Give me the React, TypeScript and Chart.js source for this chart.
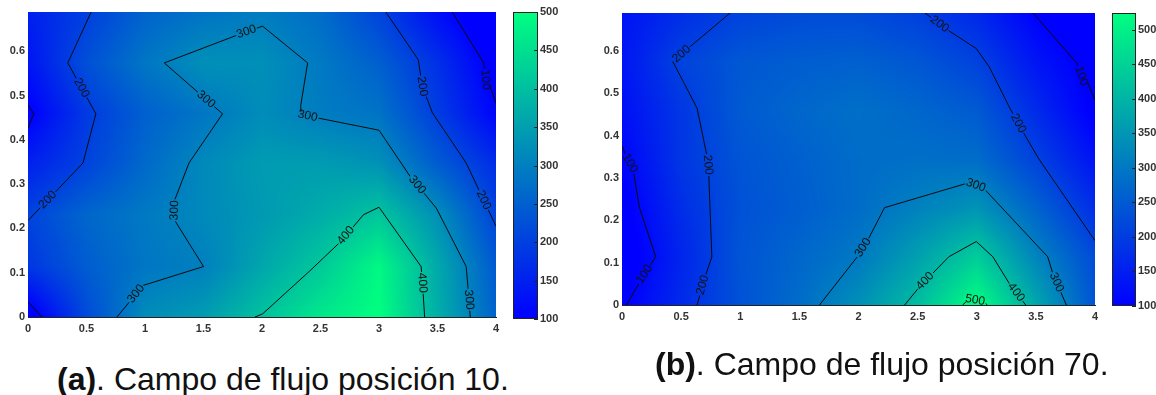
import React, { useEffect, useRef } from "react";
import { Chart, registerables } from "chart.js";

Chart.register(...registerables);

type Pt = [number, number];

const xGrid = [0, 0.5, 1, 1.5, 2, 2.5, 3, 3.5, 4];
const yGrid = [0, 0.115, 0.23, 0.345, 0.46, 0.574, 0.69];

const fieldA = [
  [75, 215, 320, 345, 405, 465, 500, 375, 255],
  [185, 245, 285, 300, 360, 415, 490, 365, 240],
  [205, 260, 290, 315, 340, 370, 410, 325, 205],
  [150, 205, 265, 315, 345, 345, 330, 245, 170],
  [95, 190, 250, 285, 320, 295, 280, 195, 105],
  [130, 225, 285, 325, 325, 290, 250, 175, 85],
  [150, 198, 255, 280, 295, 270, 205, 120, 60],
];

const fieldB = [
  [95, 170, 235, 280, 340, 415, 524, 380, 240],
  [75, 160, 240, 270, 300, 365, 440, 320, 225],
  [85, 175, 235, 255, 280, 315, 345, 265, 175],
  [105, 190, 240, 260, 280, 285, 280, 210, 130],
  [125, 190, 250, 270, 285, 270, 250, 170, 90],
  [135, 210, 245, 255, 260, 245, 210, 135, 85],
  [130, 175, 210, 225, 225, 205, 165, 100, 60],
];

const a200Left: Pt[] = [[0.54, 0.689], [0.34, 0.574], [0.58, 0.459], [0.47, 0.348], [0.265, 0.291], [0, 0.218]];
const a100Bump: Pt[] = [[0, 0.479], [0.05, 0.459], [0, 0.427]];
const a100Corner: Pt[] = [[0, 0.034], [0.12, 0]];
const a300: Pt[] = [[0.76, 0], [0.87, 0.035], [0.98, 0.071], [1.5, 0.114], [1.25, 0.22], [1.255, 0.265], [1.376, 0.348], [1.663, 0.459], [1.165, 0.574], [1.8, 0.638], [2.005, 0.657], [2.39, 0.574], [2.33, 0.476], [2.335, 0.457], [3.0, 0.422], [3.265, 0.318], [3.49, 0.246], [3.745, 0.114], [3.76, 0.069], [3.78, 0]];
const a400: Pt[] = [[1.94, 0], [2.005, 0.007], [2.404, 0.103], [2.675, 0.171], [2.867, 0.231], [3.0, 0.248], [3.36, 0.114], [3.377, 0.054], [3.39, 0]];
const a200Right: Pt[] = [[3.058, 0.689], [3.336, 0.581], [3.37, 0.521], [3.457, 0.461], [3.745, 0.348], [4, 0.205]];
const a100Right: Pt[] = [[3.626, 0.689], [3.895, 0.574], [3.91, 0.536], [3.96, 0.513], [4, 0.483]];

const b100Left: Pt[] = [[0, 0.376], [0.037, 0.35], [0.068, 0.335], [0.1, 0.311], [0.146, 0.232], [0.285, 0.114], [0.177, 0.067], [0.037, 0]];
const b200Left: Pt[] = [[0.914, 0.69], [0.57, 0.609], [0.43, 0.575], [0.635, 0.465], [0.72, 0.35], [0.734, 0.307], [0.76, 0.114], [0.703, 0.067], [0.635, 0]];
const b300: Pt[] = [[1.67, 0], [1.99, 0.114], [2.08, 0.154], [2.22, 0.23], [2.934, 0.289], [3.058, 0.276], [3.6, 0.114], [3.647, 0.071], [3.758, 0]];
const b400: Pt[] = [[2.39, 0], [2.516, 0.043], [2.764, 0.114], [2.996, 0.15], [3.136, 0.114], [3.275, 0.051], [3.414, 0]];
const b500: Pt[] = [[2.88, 0], [2.934, 0.014], [3.058, 0.008], [3.09, 0]];
const b200Right: Pt[] = [[2.562, 0.69], [2.748, 0.651], [2.996, 0.606], [3.105, 0.563], [3.275, 0.468], [3.383, 0.413], [3.523, 0.346], [4, 0.152]];
const b100Right: Pt[] = [[3.476, 0.69], [3.848, 0.571], [3.885, 0.541], [3.94, 0.524], [4, 0.484]];

const labelsA: [string, number, number][] = [
  ["200", 0.44, 0.515], ["200", 0.185, 0.261], ["300", 1.87, 0.642], ["300", 1.52, 0.491],
  ["300", 1.24, 0.241], ["300", 0.935, 0.05], ["300", 2.39, 0.453], ["300", 3.31, 0.295],
  ["300", 3.77, 0.039], ["400", 2.717, 0.184], ["400", 3.36, 0.077], ["200", 3.37, 0.521],
  ["200", 3.87, 0.261], ["100", 3.91, 0.536],
];
const labelsB: [string, number, number][] = [
  ["100", 0.068, 0.335], ["100", 0.198, 0.071], ["100", 3.885, 0.541], ["200", 0.508, 0.592],
  ["200", 0.731, 0.331], ["200", 0.688, 0.047], ["200", 2.686, 0.664], ["200", 3.337, 0.427],
  ["300", 2.036, 0.136], ["300", 2.99, 0.281], ["300", 3.672, 0.053], ["400", 2.569, 0.055],
  ["400", 3.328, 0.029], ["500", 2.99, 0.018],
];

const captionA = ["(a)", ". Campo de flujo posición 10."];
const captionB = ["(b)", ". Campo de flujo posición 70."];
const colorTicksA = [100, 150, 200, 250, 300, 350, 400, 450, 500];
const colorTicksB = [100, 150, 200, 250, 300, 350, 400, 450, 500];
const xTicks = [0, 0.5, 1, 1.5, 2, 2.5, 3, 3.5, 4];
const yTicks = [0, 0.1, 0.2, 0.3, 0.4, 0.5, 0.6];

const FONT = '"Liberation Sans", Arial, sans-serif';

function winter(v: number, min: number, max: number): [number, number, number] {
  const t = Math.min(1, Math.max(0, (v - min) / (max - min)));
  return [0, Math.round(255 * t), Math.round(255 * (1 - t / 2))];
}

function sample(field: number[][], x: number, y: number): number {
  const find = (arr: number[], v: number) => {
    let i = 0;
    while (i < arr.length - 2 && v > arr[i + 1]) i++;
    return [i, Math.min(1, Math.max(0, (v - arr[i]) / (arr[i + 1] - arr[i])))];
  };
  const [i, u] = find(xGrid, x);
  const [j, w] = find(yGrid, y);
  return (
    field[j][i] * (1 - u) * (1 - w) +
    field[j][i + 1] * u * (1 - w) +
    field[j + 1][i] * (1 - u) * w +
    field[j + 1][i + 1] * u * w
  );
}

function heatPlugin(field: number[][], min: number, max: number) {
  return {
    id: "heat",
    beforeDatasetsDraw(chart: any) {
      const { chartArea: ca, scales, ctx } = chart;
      const w = Math.round(ca.right - ca.left);
      const h = Math.round(ca.bottom - ca.top);
      const off = document.createElement("canvas");
      off.width = w;
      off.height = h;
      const oc = off.getContext("2d")!;
      const img = oc.createImageData(w, h);
      for (let py = 0; py < h; py++) {
        const y = scales.y.getValueForPixel(ca.top + py + 0.5);
        for (let px = 0; px < w; px++) {
          const x = scales.x.getValueForPixel(ca.left + px + 0.5);
          const [r, g, b] = winter(sample(field, x, y), min, max);
          const k = (py * w + px) * 4;
          img.data[k] = r;
          img.data[k + 1] = g;
          img.data[k + 2] = b;
          img.data[k + 3] = 255;
        }
      }
      oc.putImageData(img, 0, 0);
      ctx.drawImage(off, ca.left, ca.top);
    },
  };
}

function labelPlugin(
  labels: [string, number, number][],
  lines: Pt[][],
  field: number[][],
  min: number,
  max: number
) {
  return {
    id: "contourLabels",
    afterDatasetsDraw(chart: any) {
      const { scales, ctx } = chart;
      const X = (v: number) => scales.x.getPixelForValue(v);
      const Y = (v: number) => scales.y.getPixelForValue(v);
      ctx.save();
      ctx.font = `12px ${FONT}`;
      ctx.textAlign = "center";
      ctx.textBaseline = "middle";
      for (const [text, lx, ly] of labels) {
        const px = X(lx);
        const py = Y(ly);
        let best = Infinity;
        let angle = 0;
        let sx = px;
        let sy = py;
        for (const line of lines) {
          for (let i = 0; i + 1 < line.length; i++) {
            const x1 = X(line[i][0]);
            const y1 = Y(line[i][1]);
            const x2 = X(line[i + 1][0]);
            const y2 = Y(line[i + 1][1]);
            const dx = x2 - x1;
            const dy = y2 - y1;
            const t = Math.max(0, Math.min(1, ((px - x1) * dx + (py - y1) * dy) / (dx * dx + dy * dy || 1)));
            const d = Math.hypot(px - x1 - t * dx, py - y1 - t * dy);
            if (d < best) {
              best = d;
              angle = Math.atan2(dy, dx);
              sx = x1 + t * dx;
              sy = y1 + t * dy;
            }
          }
        }
        if (angle > Math.PI / 2) angle -= Math.PI;
        if (angle <= -Math.PI / 2) angle += Math.PI;
        ctx.save();
        ctx.translate(sx, sy);
        ctx.rotate(angle);
        const [r, g, b] = winter(sample(field, lx, ly), min, max);
        ctx.fillStyle = `rgb(${r},${g},${b})`;
        ctx.fillRect(-11, -3, 22, 6);
        ctx.fillStyle = "#111";
        ctx.fillText(text, 0, 0);
        ctx.restore();
      }
      ctx.restore();
    },
  };
}

function makeHeatChart(
  canvas: HTMLCanvasElement,
  cfg: {
    plotLeft: number;
    plotTop: number;
    plotBottom: number;
    field: number[][];
    max: number;
    lines: Pt[][];
    labels: [string, number, number][];
    yMax: number;
  }
) {
  const tickFont = { family: FONT, size: 11, weight: "bold" as const };
  return new Chart(canvas, {
    type: "scatter",
    data: {
      datasets: cfg.lines.map((line) => ({
        data: line.map(([x, y]) => ({ x, y })),
        showLine: true,
        borderColor: "#0b0b0b",
        borderWidth: 1,
        pointRadius: 0,
      })),
    },
    options: {
      responsive: false,
      animation: false,
      layout: { padding: { left: 0, top: cfg.plotTop, right: 10, bottom: 0 } },
      plugins: { legend: { display: false }, tooltip: { enabled: false } },
      scales: {
        x: {
          type: "linear",
          min: 0,
          max: 4,
          afterBuildTicks: (s: any) => {
            s.ticks = xTicks.map((value) => ({ value }));
          },
          afterFit: (s: any) => {
            s.height = canvas.height - cfg.plotBottom;
          },
          grid: { display: false, tickLength: 0 },
          border: { display: true, color: "#222", width: 1 },
          ticks: {
            color: "#333",
            font: tickFont,
            maxRotation: 0,
            autoSkip: false,
            padding: 5,
            callback: (v: any) => String(v),
          },
        },
        y: {
          type: "linear",
          min: 0,
          max: cfg.yMax,
          afterBuildTicks: (s: any) => {
            s.ticks = yTicks.map((value) => ({ value }));
          },
          afterFit: (s: any) => {
            s.width = cfg.plotLeft;
          },
          grid: { display: false, tickLength: 0 },
          border: { display: false },
          ticks: { color: "#333", font: tickFont, autoSkip: false, padding: 3, callback: (v: any) => String(v) },
        },
      },
    } as any,
    plugins: [heatPlugin(cfg.field, 100, cfg.max), labelPlugin(cfg.labels, cfg.lines, cfg.field, 100, cfg.max)],
  });
}

function makeColorBar(canvas: HTMLCanvasElement, cfg: { max: number; ticks: number[]; top: number; bottom: number; barWidth: number }) {
  return new Chart(canvas, {
    type: "bar",
    data: {
      labels: [""],
      datasets: [
        {
          data: [[100, cfg.max]] as any,
          barPercentage: 1,
          categoryPercentage: 1,
          backgroundColor: (c: any) => {
            const { chartArea, ctx } = c.chart;
            if (!chartArea) return "#00f";
            const g = ctx.createLinearGradient(0, chartArea.bottom, 0, chartArea.top);
            g.addColorStop(0, "#0000ff");
            g.addColorStop(1, "#00ff80");
            return g;
          },
        },
      ],
    },
    options: {
      responsive: false,
      animation: false,
      layout: { padding: { top: cfg.top, bottom: canvas.height - cfg.bottom, left: 0, right: 0 } },
      plugins: { legend: { display: false }, tooltip: { enabled: false } },
      scales: {
        x: { display: false },
        y: {
          position: "right",
          type: "linear",
          min: 100,
          max: cfg.max,
          afterBuildTicks: (s: any) => {
            s.ticks = cfg.ticks.map((value) => ({ value }));
          },
          afterFit: (s: any) => {
            s.width = canvas.width - cfg.barWidth;
          },
          grid: { display: false, tickLength: 0 },
          border: { display: false },
          ticks: { color: "#333", font: { family: FONT, size: 11, weight: "bold" }, autoSkip: false, padding: 2 },
        },
      },
    } as any,
    plugins: [
      {
        id: "frame",
        afterDatasetsDraw(chart: any) {
          const { chartArea: ca, ctx, scales } = chart;
          ctx.save();
          ctx.strokeStyle = "#222";
          ctx.lineWidth = 1;
          ctx.strokeRect(ca.left + 0.5, ca.top + 0.5, ca.right - ca.left - 1, ca.bottom - ca.top - 1);
          for (const t of cfg.ticks) {
            const y = Math.round(scales.y.getPixelForValue(t)) + 0.5;
            ctx.beginPath();
            ctx.moveTo(ca.right - 4, y);
            ctx.lineTo(ca.right, y);
            ctx.stroke();
          }
          ctx.restore();
        },
      },
    ],
  });
}

const boxStyle = (left: number, top: number): React.CSSProperties => ({
  position: "absolute",
  left,
  top,
  display: "block",
  filter: "blur(0.5px)",
});

const captionStyle = (left: number, top: number): React.CSSProperties => ({
  position: "absolute",
  left,
  top,
  fontFamily: FONT,
  fontSize: 32,
  lineHeight: "34px",
  color: "#111",
  whiteSpace: "nowrap",
});

export default function App() {
  const plotA = useRef<HTMLCanvasElement>(null);
  const barA = useRef<HTMLCanvasElement>(null);
  const plotB = useRef<HTMLCanvasElement>(null);
  const barB = useRef<HTMLCanvasElement>(null);

  useEffect(() => {
    const charts = [
      makeHeatChart(plotA.current!, {
        plotLeft: 28,
        plotTop: 12,
        plotBottom: 317,
        field: fieldA,
        max: 500,
        yMax: 0.689,
        lines: [a200Left, a100Bump, a100Corner, a300, a400, a200Right, a100Right],
        labels: labelsA,
      }),
      makeColorBar(barA.current!, { max: 500, ticks: colorTicksA, top: 12, bottom: 319, barWidth: 25 }),
      makeHeatChart(plotB.current!, {
        plotLeft: 42,
        plotTop: 13,
        plotBottom: 305,
        field: fieldB,
        max: 524,
        yMax: 0.69,
        lines: [b100Left, b200Left, b300, b400, b500, b200Right, b100Right],
        labels: labelsB,
      }),
      makeColorBar(barB.current!, { max: 524, ticks: colorTicksB, top: 13, bottom: 306, barWidth: 24 }),
    ];
    return () => charts.forEach((c) => c.destroy());
  }, []);

  return (
    <div style={{ position: "absolute", left: 0, top: 0, width: 1156, height: 395, overflow: "hidden", background: "#fff" }}>
      <canvas ref={plotA} width={506} height={345} style={boxStyle(0, 0)} />
      <canvas ref={barA} width={50} height={345} style={boxStyle(513, 0)} />
      <canvas ref={plotB} width={525} height={345} style={boxStyle(580, 0)} />
      <canvas ref={barB} width={44} height={345} style={boxStyle(1112, 0)} />
      <div style={captionStyle(57, 362)}>
        <b>{captionA[0]}</b>
        {captionA[1]}
      </div>
      <div style={captionStyle(655, 347)}>
        <b>{captionB[0]}</b>
        {captionB[1]}
      </div>
    </div>
  );
}
